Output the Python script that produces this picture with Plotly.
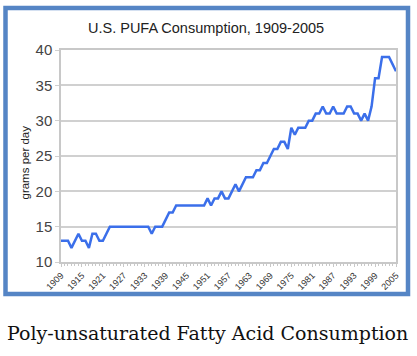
import plotly.graph_objects as go

years = list(range(1909, 2006))
pufa = [13, 13, 13, 12, 13, 14, 13, 13, 12, 14, 14, 13, 13, 14,
        15, 15, 15, 15, 15, 15, 15, 15, 15, 15, 15, 15,
        14, 15, 15, 15, 16, 17, 17,
        18, 18, 18, 18, 18, 18, 18, 18, 18,
        19, 18, 19, 19, 20, 19, 19, 20, 21, 20, 21,
        22, 22, 22, 23, 23, 24, 24, 25, 26, 26, 27, 27, 26,
        29, 28, 29, 29, 29, 30, 30, 31, 31, 32, 31, 31, 32,
        31, 31, 31, 32, 32, 31, 31, 30, 31, 30, 32,
        36, 36, 39, 39, 39, 38, 37]
tick_years = list(range(1909, 2006, 6))
y_ticks = [10, 15, 20, 25, 30, 35, 40]

title_text = "U.S. PUFA Consumption, 1909-2005"
y_title = "grams per day"
caption = "Poly-unsaturated Fatty Acid Consumption"

W, H = 417, 356
L, R, T, B = 61, 396, 50, 262

fig = go.Figure()
fig.add_trace(go.Scatter(x=years, y=pufa, mode="lines",
                         line=dict(color="#3b6fea", width=2.5),
                         hoverinfo="skip"))

def px_x(p):
    return (p - L) / (R - L)

def px_y(p):
    return (B - p) / (B - T)

fig.update_layout(
    width=W, height=H,
    margin=dict(l=L, r=W - R, t=T, b=H - B),
    paper_bgcolor="white", plot_bgcolor="white",
    showlegend=False,
    font=dict(family="Liberation Sans, Arial, sans-serif", color="#333"),
    xaxis=dict(range=[1909, 2005], tickvals=tick_years,
               ticktext=[str(t) for t in tick_years],
               tickangle=-45, tickfont=dict(size=9, color="#333"),
               showgrid=False, zeroline=False,
               showline=True, linecolor="#c8c8c8", linewidth=1.5, mirror=True,
               ticks="outside", ticklen=3, tickcolor="#c8c8c8",
               minor=dict(dtick=1, tick0=1909, ticks="outside", ticklen=2,
                          tickcolor="#c8c8c8")),
    yaxis=dict(range=[10, 40], tickvals=y_ticks,
               tickfont=dict(size=15, color="#444"),
               showgrid=True, gridcolor="#d0d0d0", gridwidth=1.5,
               zeroline=False, showline=True, linecolor="#c8c8c8",
               linewidth=1.5, mirror=True, ticks="outside", ticklen=4,
               tickcolor="#d0d0d0"),
)

# title
fig.add_annotation(text=title_text, xref="paper", yref="paper",
                   x=px_x(206), y=px_y(28), showarrow=False,
                   font=dict(size=14.5, color="#222"), xanchor="center", yanchor="middle")
# y axis title
fig.add_annotation(text=y_title, xref="paper", yref="paper",
                   x=px_x(24.5), y=px_y(163), showarrow=False, textangle=-90,
                   font=dict(size=11.5, color="#222"), xanchor="center", yanchor="middle")
# caption
fig.add_annotation(text=caption, xref="paper", yref="paper",
                   x=px_x(207), y=px_y(333), showarrow=False,
                   font=dict(size=19, color="#111", family="DejaVu Serif, serif"),
                   xanchor="center", yanchor="middle")
# blue frame
fig.add_shape(type="rect", xref="paper", yref="paper",
              x0=px_x(5.5), x1=px_x(408), y0=px_y(294), y1=px_y(8),
              line=dict(color="#5585c5", width=4.5), fillcolor="rgba(0,0,0,0)",
              layer="above")

fig.write_html("out.html", config={"displayModeBar": False},
               post_script="document.body.style.margin='0';document.body.style.overflow='hidden';")
